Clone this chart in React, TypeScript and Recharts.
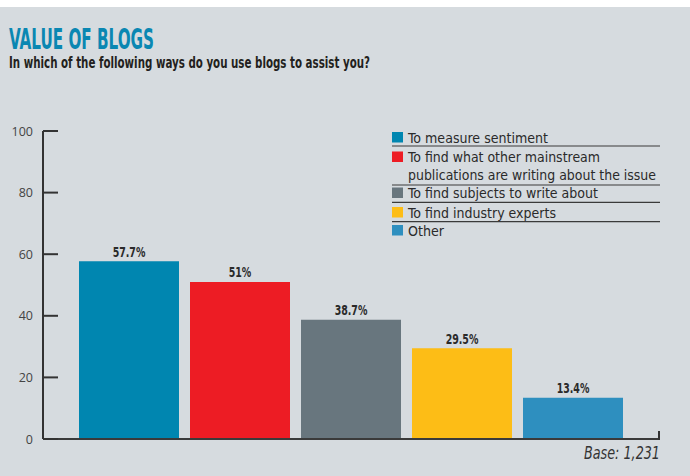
import React from "react";
import { BarChart, Bar, XAxis, YAxis, Cell, LabelList, Legend } from "recharts";

const categories = [
  "To measure sentiment",
  "To find what other mainstream publications are writing about the issue",
  "To find subjects to write about",
  "To find industry experts",
  "Other",
];
const legendLines = [
  ["To measure sentiment"],
  ["To find what other mainstream", "publications are writing about the issue"],
  ["To find subjects to write about"],
  ["To find industry experts"],
  ["Other"],
];
const values = [57.7, 51, 38.7, 29.5, 13.4];
const colors = ["#0086b0", "#ed1c24", "#68767e", "#fdbd16", "#2e8fbf"];
const yTicks = [0, 20, 40, 60, 80, 100];
const title = "VALUE OF BLOGS";
const subtitle = "In which of the following ways do you use blogs to assist you?";
const baseNote = "Base: 1,231";

// legend layout (style only)
const legendTextWidths = [[140], [192, 248], [190], [148], [36]];
const legendRowTops = [5, 24.5, 60.5, 80, 98];
const legendRules = [19, 58, 75.3, 94.7];
const LEGEND_LINE_GAP = 17.7;

const data = categories.map((c, i) => ({ name: c, value: values[i] }));

const NARROW = "'Liberation Sans Narrow', 'DejaVu Sans Condensed', sans-serif";

const YTick = (props: any) => {
  const { x, y, payload } = props;
  return (
    <g>
      <line x1={x + 10} x2={x + 25} y1={y} y2={y} stroke="#333" strokeWidth={2} />
      <text x={x} y={y} dy={4.5} textAnchor="end" fill="#444" fontSize={12.5} fontFamily="'Open Sans', sans-serif">
        {payload.value}
      </text>
    </g>
  );
};

const BarLabel = (props: any) => {
  const { x, y, width, value } = props;
  const cx = x + width / 2;
  const ty = y - 4.5;
  return (
    <text
      x={0}
      y={0}
      transform={`translate(${cx},${ty}) scale(0.75,1)`}
      textAnchor="middle"
      fontFamily={NARROW}
      fontWeight="bold"
      fontSize={14}
      fill="#2a2a2a"
    >
      {`${value}%`}
    </text>
  );
};

const LegendContent = () => (
  <svg width={270} height={112} style={{ display: "block", overflow: "visible" }}>
    {legendRules.map((ry, i) => (
      <line key={"r" + i} x1={0} x2={268} y1={ry} y2={ry} stroke="#3a3a3a" strokeWidth={1.2} />
    ))}
    {legendLines.map((lines, i) => (
      <g key={i}>
        <rect x={0} y={legendRowTops[i]} width={11} height={10.5} fill={colors[i]} />
        {lines.map((l, j) => (
          <text
            key={j}
            x={16}
            y={legendRowTops[i] + 10.5 + j * LEGEND_LINE_GAP}
            fontFamily={NARROW}
            fontSize={14.5}
            fill="#2a2a2a"
            textLength={legendTextWidths[i][j]}
            lengthAdjust="spacingAndGlyphs"
          >
            {l}
          </text>
        ))}
      </g>
    ))}
  </svg>
);

export default function App() {
  return (
    <div style={{ position: "fixed", left: 0, top: 0, width: 690, height: 476, background: "#fff" }}>
      <div style={{ position: "absolute", left: 0, top: 7, width: 690, height: 469, background: "#d6dbdf" }} />
      <svg width={690} height={80} style={{ position: "absolute", left: 0, top: 0 }}>
        <text x={9} y={49} fontFamily={NARROW} fontWeight="bold" fontSize={29} fill="#0a87b2"
          textLength={145} lengthAdjust="spacingAndGlyphs">{title}</text>
        <text x={9} y={68} fontFamily={NARROW} fontWeight="bold" fontSize={16.5} fill="#231f20"
          textLength={361} lengthAdjust="spacingAndGlyphs">{subtitle}</text>
      </svg>
      <div style={{ position: "absolute", left: 0, top: 0 }}>
        <BarChart
          width={690}
          height={476}
          data={data}
          margin={{ top: 131, right: 31, bottom: 36, left: 0 }}
          barCategoryGap={5.5}
        >
          <YAxis
            width={43}
            domain={[0, 100]}
            ticks={yTicks}
            interval={0}
            tickLine={false}
            tickSize={0}
            tickMargin={10}
            axisLine={{ stroke: "#333", strokeWidth: 2 }}
            tick={<YTick />}
          />
          <XAxis
            dataKey="name"
            height={1}
            tick={false}
            tickLine={false}
            axisLine={{ stroke: "#3a3a3a", strokeWidth: 2 }}
            padding={{ left: 30.5, right: 30.5 }}
          />
          <Legend
            layout="vertical"
            align="center"
            verticalAlign="middle"
            content={<LegendContent />}
            wrapperStyle={{ position: "absolute", left: 392, top: 127, width: 270, height: 112 }}
          />
          <Bar dataKey="value" isAnimationActive={false}>
            {data.map((d, i) => (
              <Cell key={i} fill={colors[i]} />
            ))}
            <LabelList dataKey="value" content={<BarLabel />} />
          </Bar>
        </BarChart>
      </div>
      <div style={{ position: "absolute", left: 658, top: 431, width: 2, height: 9, background: "#333" }} />
      <svg width={690} height={476} style={{ position: "absolute", left: 0, top: 0, pointerEvents: "none" }}>
        <text x={584} y={459} fontFamily={NARROW} fontStyle="italic" fontSize={17} fill="#333"
          textLength={76} lengthAdjust="spacingAndGlyphs">{baseNote}</text>
      </svg>
    </div>
  );
}
